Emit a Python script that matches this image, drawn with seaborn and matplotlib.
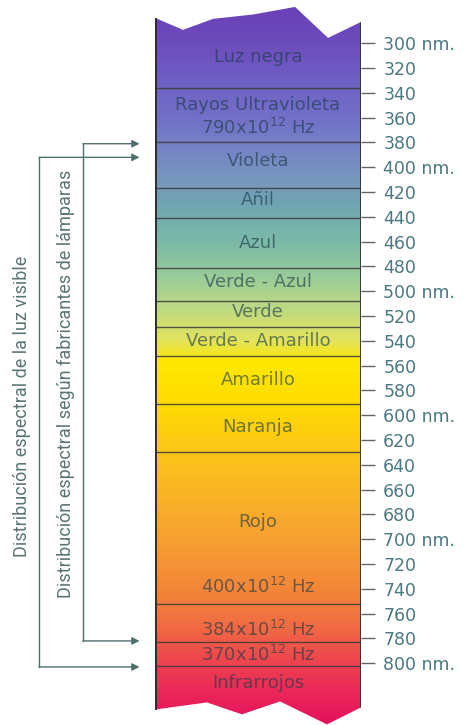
import numpy as np
import matplotlib.pyplot as plt
from matplotlib.colors import LinearSegmentedColormap
from matplotlib.patches import Polygon
import seaborn as sns

sns.set_style('white')
plt.rcParams['font.family'] = ['DejaVu Sans']

# wavelength scale (nm)
tick_nm = list(range(300, 801, 20))
tick_labels = [f'{v} nm.' if v % 100 == 0 else str(v) for v in tick_nm]

# horizontal separators inside the column
band_edges = [336, 380, 417, 441, 481, 508, 529, 552, 591, 630, 752, 783, 802]

# labels written inside the column and their wavelength
band_labels = ['Luz negra', 'Rayos Ultravioleta', '790x10$^{12}$ Hz', 'Violeta', 'Añil',
               'Azul', 'Verde - Azul', 'Verde', 'Verde - Amarillo', 'Amarillo',
               'Naranja', 'Rojo', '400x10$^{12}$ Hz', '384x10$^{12}$ Hz',
               '370x10$^{12}$ Hz', 'Infrarrojos']
band_label_nm = [311, 350, 368, 395, 426, 461, 492.5, 516.5, 540, 571.5,
                 609.5, 686, 738.5, 773, 793, 816]

# colour stops along the spectrum
color_nm = [265, 300, 336, 360, 385, 405, 430, 460, 490, 515, 540, 556,
            590, 630, 700, 750, 775, 795, 820, 850]
color_hex = ['#6a3fb5', '#6d4dbd', '#7064c6', '#7270c8', '#7584c4', '#7894bf',
             '#70a6b2', '#7cbaa8', '#9ccd98', '#c0da80', '#e2e35c', '#ffe800',
             '#ffdc00', '#fdc61a', '#f6a032', '#f2803a', '#f06644', '#ee4a4c',
             '#ec2c58', '#e4105e']

# arrows on the left (start, end in nm)
visible_range = (392, 803)
lamp_range = (381, 782)

# range shown and jagged ends of the column (x in column widths, nm)
y_top, y_bottom = 265.1, 849.8
top_edge = [(0, 279.5), (0.136, 289.2), (0.282, 280.3), (0.476, 276.8),
            (0.68, 270.7), (0.84, 295.7), (1, 282.8)]
bottom_edge = [(1, 835.6), (0.835, 849.3), (0.607, 830.8), (0.422, 841.2),
               (0.252, 831.6), (0, 837.3)]

fig = plt.figure(figsize=(4.63, 7.25), dpi=100)
ax = fig.add_axes([155 / 463, 0, 206 / 463, 1])
ax.set_xlim(0, 1)
ax.set_ylim(y_bottom, y_top)

stops = [((v - y_top) / (y_bottom - y_top), c) for v, c in zip(color_nm, color_hex)]
stops[0] = (0.0, stops[0][1])
stops[-1] = (1.0, stops[-1][1])
cmap = LinearSegmentedColormap.from_list('spectrum', stops)
grad = np.linspace(y_top, y_bottom, 800)[:, None]
im = ax.imshow(grad, extent=(0, 1, y_bottom, y_top), aspect='auto', cmap=cmap,
               vmin=y_top, vmax=y_bottom, origin='upper', interpolation='bilinear')
outline = Polygon(top_edge + bottom_edge, closed=True, transform=ax.transData,
                  facecolor='none', edgecolor='none')
ax.add_patch(outline)
im.set_clip_path(outline)

ax.hlines(band_edges, 0, 1, color='#3a3a3a', lw=1, alpha=0.85)
ax.plot([0, 0], [top_edge[0][1], bottom_edge[-1][1]], color='#2e2e2e', lw=2.8,
        solid_capstyle='butt')
ax.plot([1, 1], [top_edge[-1][1], bottom_edge[0][1]], color='#2e2e2e', lw=2.0,
        solid_capstyle='butt')

for s, v in zip(band_labels, band_label_nm):
    ax.text(0.5, v, s, ha='center', va='center', fontsize=13,
            color='#1a3a4a', alpha=0.62)

# tick scale on the right
ax.yaxis.tick_right()
ax.set_yticks(tick_nm)
ax.set_yticklabels(tick_labels)
ax.set_xticks([])
ax.tick_params(axis='y', length=10, width=1, color='#666666', pad=6,
               labelsize=12.5, labelcolor='#4a7883', direction='out', right=True)
for sp in ax.spines.values():
    sp.set_visible(False)

# arrows and rotated captions on the left
line_col = '#4f6e6e'
tip_x = -0.075
for (x_line, (a, b)) in [(-0.563, visible_range), (-0.35, lamp_range)]:
    ax.plot([x_line, x_line], [a, b], color=line_col, lw=1, clip_on=False)
    for v in (a, b):
        ax.annotate('', xy=(tip_x, v), xytext=(x_line, v), annotation_clip=False,
                    arrowprops=dict(arrowstyle='-|>', color=line_col, lw=1,
                                    mutation_scale=11, shrinkA=0, shrinkB=0))

cap_font = ['Liberation Sans Narrow', 'Roboto', 'DejaVu Sans']
ax.text(-0.646, 593, 'Distribución espectral de la luz visible', rotation=90,
        ha='center', va='center', fontsize=13, color='#5a7474', family=cap_font,
        clip_on=False)
ax.text(-0.43, 575, 'Distribución espectral según fabricantes de lámparas',
        rotation=90, ha='center', va='center', fontsize=13, color='#5a7474',
        family=cap_font, clip_on=False)

fig.savefig('out.png', dpi=100)
